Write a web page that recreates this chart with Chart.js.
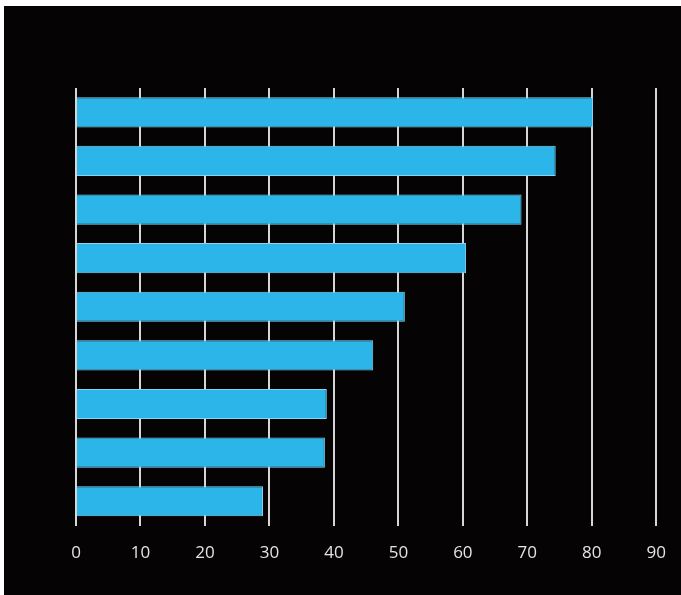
<!DOCTYPE html>
<html>
<head>
<meta charset="utf-8">
<script src="https://cdn.jsdelivr.net/npm/chart.js@4/dist/chart.umd.min.js"></script>
<style>
  html, body { margin: 0; padding: 0; background: #ffffff; overflow: hidden; }
  #wrap { position: absolute; left: 4px; top: 6px; width: 677px; height: 589px; background: #050303; overflow: hidden; }
  canvas { display: block; }
</style>
</head>
<body>
<div id="wrap"><canvas id="c" width="679" height="589"></canvas></div>
<script>
const categories = ['1', '2', '3', '4', '5', '6', '7', '8', '9'];
const values = [80.2, 74.4, 69.1, 60.5, 51.0, 46.1, 38.9, 38.6, 29.0];
const tickMin = 0;
const tickMax = 90;
const tickStep = 10;

new Chart(document.getElementById('c'), {
  type: 'bar',
  data: {
    labels: categories,
    datasets: [{
      data: values,
      backgroundColor: '#2bb5e8',
      borderColor: '#86d6f3',
      borderWidth: 1,
      categoryPercentage: 1.0,
      barPercentage: 0.62
    }]
  },
  options: {
    indexAxis: 'y',
    responsive: false,
    animation: false,
    layout: { padding: { left: 64, right: 21, top: 82, bottom: 15 } },
    plugins: { legend: { display: false }, tooltip: { enabled: false } },
    scales: {
      x: {
        min: tickMin, max: tickMax,
        ticks: { stepSize: tickStep, color: '#e4e4e4', font: { family: 'Open Sans', size: 17 }, padding: 17 },
        grid: { color: '#d6d6d6', lineWidth: 2, drawTicks: false },
        border: { display: false }
      },
      y: {
        ticks: { display: false },
        grid: { display: false },
        border: { display: false }
      }
    }
  }
});
</script>
</body>
</html>
